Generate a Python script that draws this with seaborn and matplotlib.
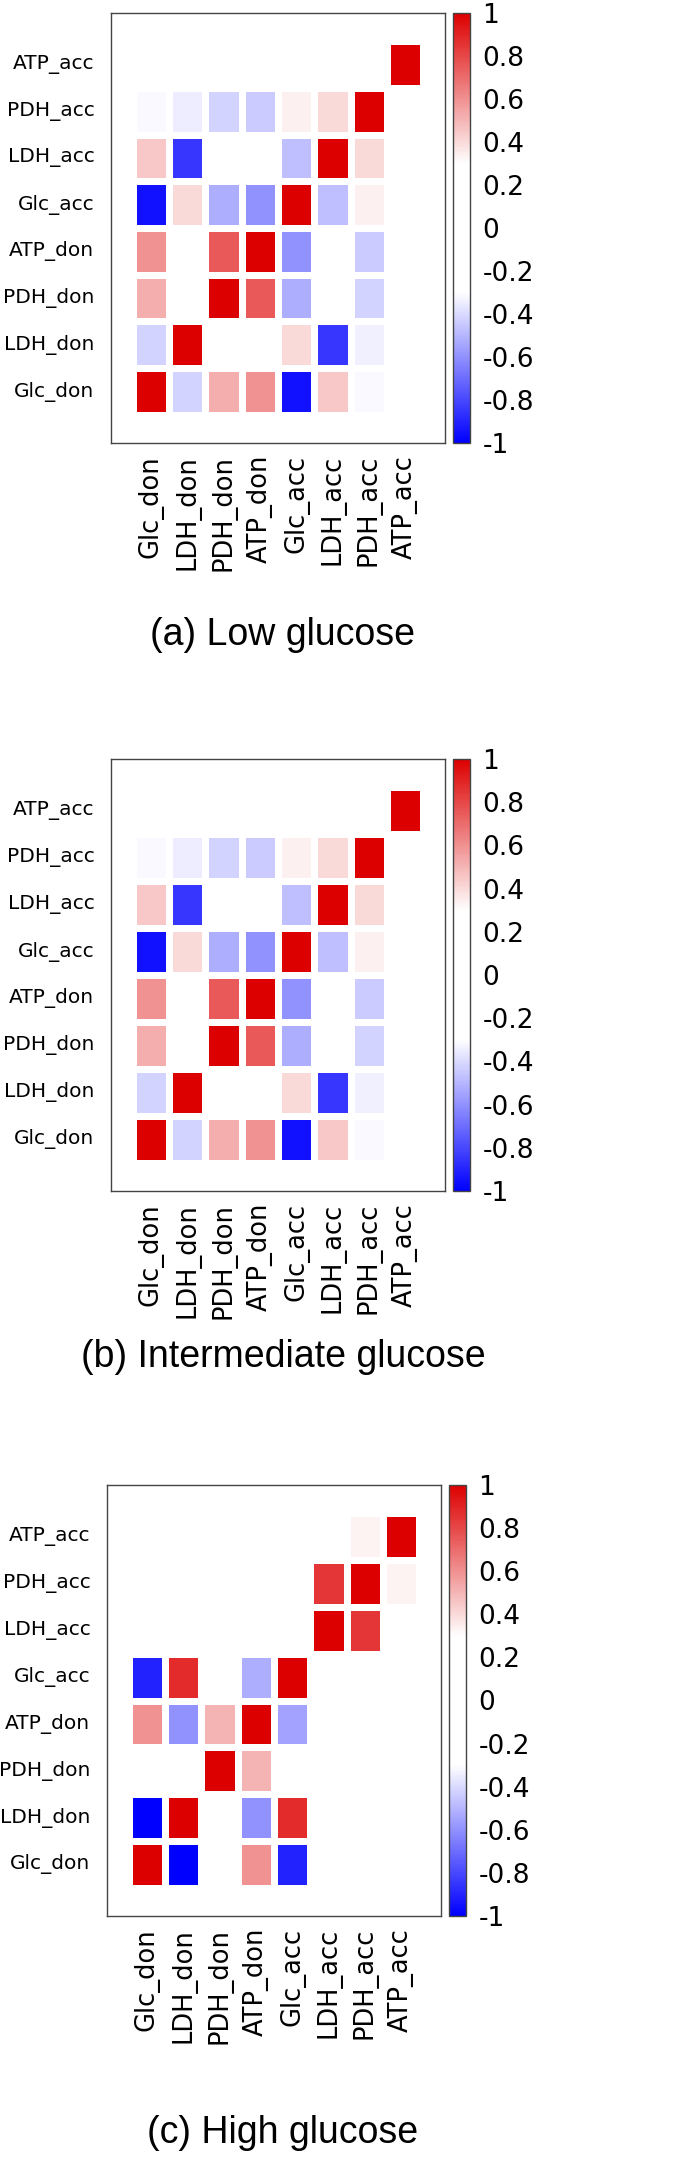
import numpy as np
import pandas as pd
import seaborn as sns
import matplotlib.pyplot as plt
from matplotlib import font_manager
from matplotlib.colors import LinearSegmentedColormap

nan = np.nan

# variable names (columns left -> right, rows bottom -> top)
names = ["Glc_don", "LDH_don", "PDH_don", "ATP_don", "Glc_acc", "LDH_acc", "PDH_acc", "ATP_acc"]

# correlation values, rows listed top -> bottom (ATP_acc first), NaN = not shown
low_vals = [
    [nan, nan, nan, nan, nan, nan, nan, 1.0],
    [-0.32, -0.35, -0.42, -0.44, 0.34, 0.40, 1.0, nan],
    [0.45, -0.85, nan, nan, -0.47, 1.0, 0.40, nan],
    [-0.95, 0.40, -0.52, -0.60, 1.0, -0.47, 0.34, nan],
    [0.60, nan, 0.75, 1.0, -0.60, nan, -0.44, nan],
    [0.52, nan, 1.0, 0.75, -0.52, nan, -0.42, nan],
    [-0.42, 1.0, nan, nan, 0.40, -0.85, -0.34, nan],
    [1.0, -0.42, 0.52, 0.60, -0.95, 0.45, -0.32, nan],
]

mid_vals = [
    [nan, nan, nan, nan, nan, nan, nan, 1.0],
    [-0.32, -0.35, -0.42, -0.44, 0.34, 0.40, 1.0, nan],
    [0.45, -0.85, nan, nan, -0.47, 1.0, 0.40, nan],
    [-0.95, 0.40, -0.52, -0.60, 1.0, -0.47, 0.34, nan],
    [0.60, nan, 0.75, 1.0, -0.60, nan, -0.44, nan],
    [0.52, nan, 1.0, 0.75, -0.52, nan, -0.42, nan],
    [-0.42, 1.0, nan, nan, 0.40, -0.85, -0.34, nan],
    [1.0, -0.42, 0.52, 0.60, -0.95, 0.45, -0.32, nan],
]

high_vals = [
    [nan, nan, nan, nan, nan, nan, 0.33, 1.0],
    [nan, nan, nan, nan, nan, 0.85, 1.0, 0.33],
    [nan, nan, nan, nan, nan, 1.0, 0.85, nan],
    [-0.90, 0.88, nan, -0.52, 1.0, nan, nan, nan],
    [0.60, -0.60, 0.50, 1.0, -0.55, nan, nan, nan],
    [nan, nan, 1.0, 0.50, nan, nan, nan, nan],
    [-1.0, 1.0, nan, -0.60, 0.88, nan, nan, nan],
    [1.0, -1.0, nan, 0.60, -0.90, nan, nan, nan],
]

titles = ["(a) Low glucose", "(b) Intermediate glucose", "(c) High glucose"]
cbar_ticks = [1, 0.8, 0.6, 0.4, 0.2, 0, -0.2, -0.4, -0.6, -0.8, -1]
cbar_labels = ["1", "0.8", "0.6", "0.4", "0.2", "0", "-0.2", "-0.4", "-0.6", "-0.8", "-1"]

# blue -> white band (-0.3..0.3) -> red
cmap = LinearSegmentedColormap.from_list(
    "bwr_band", [(0.0, "#0000ff"), (0.35, "#ffffff"), (0.65, "#ffffff"), (1.0, "#dd0000")])

# narrow font for the row labels if there is one
avail = {f.name for f in font_manager.fontManager.ttflist}
if "Liberation Sans Narrow" in avail:
    ylab_font, ylab_size = "Liberation Sans Narrow", 17.5
else:
    ylab_font, ylab_size = "DejaVu Sans", 14.5

W, H = 675, 2160
fig = plt.figure(figsize=(W / 100, H / 100), dpi=100)


def box(x, y, w, h):
    return fig.add_axes([x / W, 1 - (y + h) / H, w / W, h / H])


# pixel layout: (axes left, top, width, height, colorbar left, title y)
layout = [
    (111, 13, 334, 430, 453, 635),
    (111, 759, 334, 432, 453, 1357),
    (107, 1485, 334, 431, 449, 2133),
]

for vals, title, (x, y, w, h, cx, ty) in zip([low_vals, mid_vals, high_vals], titles, layout):
    df = pd.DataFrame(vals, index=names[::-1], columns=names)
    ax = box(x, y, w, h)
    cax = box(cx, y, 17, h)
    sns.heatmap(df, ax=ax, cmap=cmap, vmin=-1, vmax=1, cbar_ax=cax,
                linewidths=5, linecolor="white", cbar_kws={"ticks": cbar_ticks})
    ax.set_xlim(-0.6, 8.6)
    ax.set_ylim(8.6, -0.6)
    for s in ax.spines.values():
        s.set_visible(True)
        s.set_color("#444444")
        s.set_linewidth(1.0)
    ax.tick_params(axis="x", length=0, pad=8.5)
    ax.tick_params(axis="y", length=0, pad=12)
    ax.set_xticklabels(names, rotation=90, fontsize=18.5, family="DejaVu Sans")
    ax.set_yticklabels(names[::-1], rotation=0, fontsize=ylab_size, family=ylab_font)
    ax.set_xlabel("")
    ax.set_ylabel("")

    cbar = ax.collections[0].colorbar
    cbar.set_ticks(cbar_ticks)
    cbar.set_ticklabels(cbar_labels, fontsize=19)
    cax.tick_params(length=0, pad=9)
    cbar.outline.set_edgecolor("#444444")
    cbar.outline.set_linewidth(1.0)

    fig.text(283 / W, 1 - ty / H, title, ha="center", va="center",
             fontsize=27, family="Liberation Sans")

fig.savefig("out.png", dpi=100)
